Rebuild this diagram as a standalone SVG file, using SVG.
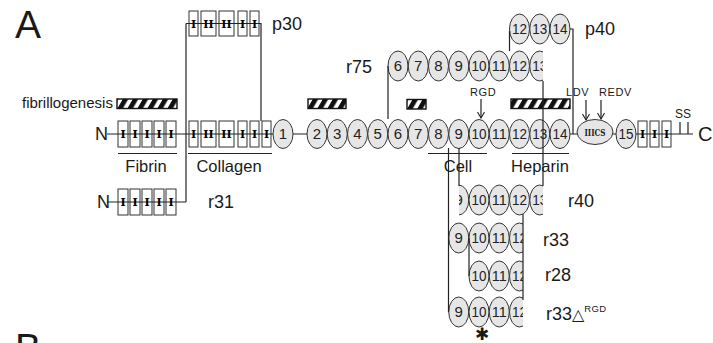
<svg xmlns="http://www.w3.org/2000/svg" width="713" height="343" viewBox="0 0 713 343">
<defs>
<style>
text{font-family:"Liberation Sans",Arial,sans-serif;fill:#1a1a1a}
.lbl{font-size:18px}
.dom{font-size:16.5px;text-anchor:middle}
.sm{font-size:11px;letter-spacing:0.6px}
.ov ellipse{fill:#e6e6e6;stroke:#333;stroke-width:1}
.ov text{font-size:15px;text-anchor:middle;fill:#222}
.bx rect{fill:#fff;stroke:#333;stroke-width:1}
.g{font-family:"DejaVu Serif",serif;font-weight:bold;font-size:11px;text-anchor:middle;fill:#000}
.ln{fill:none;stroke:#222;stroke-width:1.2}
.hat{fill:url(#hatch);stroke:#111;stroke-width:1.4}
</style>
<pattern id="hatch" patternUnits="userSpaceOnUse" width="10" height="10" patternTransform="skewX(-30)">
<rect width="10" height="10" fill="#fff"/>
<rect width="5.5" height="10" fill="#111"/>
</pattern>
<marker id="ah" markerWidth="8" markerHeight="8" refX="7" refY="4" orient="auto" markerUnits="userSpaceOnUse">
<path d="M1,0.5 L7,4 L1,7.5" fill="none" stroke="#222" stroke-width="1.1"/>
</marker>
<clipPath id="c75"><rect x="380" y="45" width="163" height="45"/></clipPath>
<clipPath id="c40"><rect x="459" y="180" width="84" height="40"/></clipPath>
<clipPath id="clow"><rect x="440" y="215" width="83" height="120"/></clipPath>
</defs>
<rect width="713" height="343" fill="#fff"/>

<g id="panel-letters">
<text x="15" y="38" font-size="39">A</text>
<text x="15" y="361" font-size="39">B</text>
</g>

<g id="hatched-bars">
<text x="22" y="108" font-size="15">fibrillogenesis</text>
<rect class="hat" x="117" y="99" width="60" height="9.5"/>
<rect class="hat" x="308" y="99" width="38" height="9.5"/>
<rect class="hat" x="407" y="99.5" width="19" height="9.5"/>
<rect class="hat" x="511" y="99" width="59" height="9.5"/>
</g>

<g id="chains">
<g class="bx">
<rect x="118" y="121" width="10" height="26"/><rect x="130" y="121" width="10" height="26"/><rect x="142" y="121" width="10" height="26"/><rect x="154" y="121" width="10" height="26"/><rect x="166" y="121" width="10" height="26"/>
<rect x="189" y="121" width="9" height="26"/><rect x="201" y="121" width="15" height="26"/><rect x="219" y="121" width="15" height="26"/><rect x="238" y="121" width="9" height="26"/><rect x="250" y="121" width="9" height="26"/><rect x="262" y="121" width="9" height="26"/>
<rect x="638" y="121" width="9" height="26"/><rect x="650" y="121" width="9" height="26"/><rect x="662" y="121" width="9" height="26"/>
<rect x="189" y="11" width="9" height="25"/><rect x="201" y="11" width="15" height="25"/><rect x="219" y="11" width="15" height="25"/><rect x="238" y="11" width="9" height="25"/><rect x="250" y="11" width="9" height="25"/>
<rect x="118" y="189" width="10" height="26"/><rect x="130" y="189" width="10" height="26"/><rect x="142" y="189" width="10" height="26"/><rect x="154" y="189" width="10" height="26"/><rect x="166" y="189" width="10" height="26"/>
</g>
<path class="ln" d="M107 134H693M107 202H186M186 23.5H261M680 122V134M688 122V134"/>
</g>

<g id="full-length" class="ov">
<ellipse cx="283" cy="134" rx="10" ry="14.5"/><text x="283" y="139.4">1</text>
<ellipse cx="317" cy="134" rx="10" ry="14.5"/><text x="317" y="139.4">2</text>
<ellipse cx="337.25" cy="134" rx="10" ry="14.5"/><text x="337.25" y="139.4">3</text>
<ellipse cx="357.5" cy="134" rx="10" ry="14.5"/><text x="357.5" y="139.4">4</text>
<ellipse cx="377.75" cy="134" rx="10" ry="14.5"/><text x="377.75" y="139.4">5</text>
<ellipse cx="398" cy="134" rx="10" ry="14.5"/><text x="398" y="139.4">6</text>
<ellipse cx="418.25" cy="134" rx="10" ry="14.5"/><text x="418.25" y="139.4">7</text>
<ellipse cx="438.5" cy="134" rx="10" ry="14.5"/><text x="438.5" y="139.4">8</text>
<ellipse cx="458.75" cy="134" rx="10" ry="14.5"/><text x="458.75" y="139.4">9</text>
<ellipse cx="479" cy="134" rx="10" ry="14.5"/><text x="479" y="139.4" textLength="15" lengthAdjust="spacingAndGlyphs">10</text>
<ellipse cx="499.25" cy="134" rx="10" ry="14.5"/><text x="499.25" y="139.4" textLength="15" lengthAdjust="spacingAndGlyphs">11</text>
<ellipse cx="519.5" cy="134" rx="10" ry="14.5"/><text x="519.5" y="139.4" textLength="15" lengthAdjust="spacingAndGlyphs">12</text>
<ellipse cx="539.75" cy="134" rx="10" ry="14.5"/><text x="539.75" y="139.4" textLength="15" lengthAdjust="spacingAndGlyphs">13</text>
<ellipse cx="560" cy="134" rx="10" ry="14.5"/><text x="560" y="139.4" textLength="15" lengthAdjust="spacingAndGlyphs">14</text>
<ellipse cx="595" cy="132" rx="18" ry="12.5"/><text class="g" x="595" y="135.5" style="font-size:9px" textLength="21" lengthAdjust="spacingAndGlyphs">IIICS</text>
<ellipse cx="626" cy="134" rx="10" ry="14.5"/><text x="626" y="139.4" textLength="15" lengthAdjust="spacingAndGlyphs">15</text>
</g>

<g id="module-glyphs">
<text class="g" x="123" y="138">I</text><text class="g" x="135" y="138">I</text><text class="g" x="147" y="138">I</text><text class="g" x="159" y="138">I</text><text class="g" x="171" y="138">I</text>
<text class="g" x="193.5" y="138">I</text><text class="g" x="208.5" y="138">II</text><text class="g" x="226.5" y="138">II</text><text class="g" x="242.5" y="138">I</text><text class="g" x="254.5" y="138">I</text><text class="g" x="266.5" y="138">I</text>
<text class="g" x="642.5" y="138">I</text><text class="g" x="654.5" y="138">I</text><text class="g" x="666.5" y="138">I</text>
<text class="g" x="193.5" y="27.5">I</text><text class="g" x="208.5" y="27.5">II</text><text class="g" x="226.5" y="27.5">II</text><text class="g" x="242.5" y="27.5">I</text><text class="g" x="254.5" y="27.5">I</text>
<text class="g" x="123" y="206">I</text><text class="g" x="135" y="206">I</text><text class="g" x="147" y="206">I</text><text class="g" x="159" y="206">I</text><text class="g" x="171" y="206">I</text>
</g>

<g id="p40" class="ov">
<ellipse cx="519.5" cy="29" rx="10" ry="15"/><text x="519.5" y="34.4" textLength="15" lengthAdjust="spacingAndGlyphs">12</text>
<ellipse cx="539.75" cy="29" rx="10" ry="15"/><text x="539.75" y="34.4" textLength="15" lengthAdjust="spacingAndGlyphs">13</text>
<ellipse cx="560" cy="29" rx="10" ry="15"/><text x="560" y="34.4" textLength="15" lengthAdjust="spacingAndGlyphs">14</text>
</g>

<g id="r75" class="ov" clip-path="url(#c75)">
<ellipse cx="398" cy="66" rx="10" ry="15"/><text x="398" y="71.4">6</text>
<ellipse cx="418.25" cy="66" rx="10" ry="15"/><text x="418.25" y="71.4">7</text>
<ellipse cx="438.5" cy="66" rx="10" ry="15"/><text x="438.5" y="71.4">8</text>
<ellipse cx="458.75" cy="66" rx="10" ry="15"/><text x="458.75" y="71.4">9</text>
<ellipse cx="479" cy="66" rx="10" ry="15"/><text x="479" y="71.4" textLength="15" lengthAdjust="spacingAndGlyphs">10</text>
<ellipse cx="499.25" cy="66" rx="10" ry="15"/><text x="499.25" y="71.4" textLength="15" lengthAdjust="spacingAndGlyphs">11</text>
<ellipse cx="519.5" cy="66" rx="10" ry="15"/><text x="519.5" y="71.4" textLength="15" lengthAdjust="spacingAndGlyphs">12</text>
<ellipse cx="539.75" cy="66" rx="10" ry="15"/><text x="539.75" y="71.4" textLength="15" lengthAdjust="spacingAndGlyphs">13</text>
</g>

<g id="r40" class="ov" clip-path="url(#c40)">
<ellipse cx="458.75" cy="200" rx="10" ry="15"/><text x="458.75" y="205.4">9</text>
<ellipse cx="479" cy="200" rx="10" ry="15"/><text x="479" y="205.4" textLength="15" lengthAdjust="spacingAndGlyphs">10</text>
<ellipse cx="499.25" cy="200" rx="10" ry="15"/><text x="499.25" y="205.4" textLength="15" lengthAdjust="spacingAndGlyphs">11</text>
<ellipse cx="519.5" cy="200" rx="10" ry="15"/><text x="519.5" y="205.4" textLength="15" lengthAdjust="spacingAndGlyphs">12</text>
<ellipse cx="539.75" cy="200" rx="10" ry="15"/><text x="539.75" y="205.4" textLength="15" lengthAdjust="spacingAndGlyphs">13</text>
</g>

<g id="r33" class="ov" clip-path="url(#clow)">
<ellipse cx="458.75" cy="238" rx="10" ry="15"/><text x="458.75" y="243.4">9</text>
<ellipse cx="479" cy="238" rx="10" ry="15"/><text x="479" y="243.4" textLength="15" lengthAdjust="spacingAndGlyphs">10</text>
<ellipse cx="499.25" cy="238" rx="10" ry="15"/><text x="499.25" y="243.4" textLength="15" lengthAdjust="spacingAndGlyphs">11</text>
<ellipse cx="519.5" cy="238" rx="10" ry="15"/><text x="519.5" y="243.4" textLength="15" lengthAdjust="spacingAndGlyphs">12</text>
</g>

<g id="r28" class="ov" clip-path="url(#clow)">
<ellipse cx="479" cy="276" rx="10" ry="15"/><text x="479" y="281.4" textLength="15" lengthAdjust="spacingAndGlyphs">10</text>
<ellipse cx="499.25" cy="276" rx="10" ry="15"/><text x="499.25" y="281.4" textLength="15" lengthAdjust="spacingAndGlyphs">11</text>
<ellipse cx="519.5" cy="276" rx="10" ry="15"/><text x="519.5" y="281.4" textLength="15" lengthAdjust="spacingAndGlyphs">12</text>
</g>

<g id="r33dRGD" class="ov" clip-path="url(#clow)">
<ellipse cx="458.75" cy="312" rx="10" ry="15"/><text x="458.75" y="317.4">9</text>
<ellipse cx="479" cy="312" rx="10" ry="15"/><text x="479" y="317.4" textLength="15" lengthAdjust="spacingAndGlyphs">10</text>
<ellipse cx="499.25" cy="312" rx="10" ry="15"/><text x="499.25" y="317.4" textLength="15" lengthAdjust="spacingAndGlyphs">11</text>
<ellipse cx="519.5" cy="312" rx="10" ry="15"/><text x="519.5" y="317.4" textLength="15" lengthAdjust="spacingAndGlyphs">12</text>
</g>

<g id="connectors" class="ln">
<path d="M186 23.5V202"/>
<path d="M258 23.5H261V121"/>
<path d="M388 66V119"/>
<path d="M509.5 31V51"/>
<path d="M570 29H573V134"/>
<path d="M543 81V186"/>
<path d="M448.5 148V312"/>
<path d="M459 148V186"/>
<path d="M469 238V276"/>
<path d="M523 214V300"/>
<path d="M481 99V118" marker-end="url(#ah)"/>
<path d="M586 100V120" marker-end="url(#ah)"/>
<path d="M601 100V119" marker-end="url(#ah)"/>
<path d="M118 153.5H177M188 153.5H272M428 153.5H487M512 153.5H569"/>
</g>

<g id="labels">
<text class="lbl" x="95" y="140">N</text>
<text class="lbl" x="97" y="208">N</text>
<text x="698" y="141" font-size="20">C</text>
<text x="675" y="117.5" font-size="12">SS</text>
<text class="sm" x="470" y="96">RGD</text>
<text class="sm" x="566" y="96">LDV</text>
<text class="sm" x="599" y="96">REDV</text>
<text class="dom" x="146" y="172">Fibrin</text>
<text class="dom" x="229" y="172">Collagen</text>
<text class="dom" x="458" y="172">Cell</text>
<text class="dom" x="540" y="172">Heparin</text>
<text class="lbl" x="272" y="30">p30</text>
<text class="lbl" x="346" y="73">r75</text>
<text class="lbl" x="585" y="35">p40</text>
<text class="lbl" x="208" y="208">r31</text>
<text class="lbl" x="568" y="207">r40</text>
<text class="lbl" x="543" y="246">r33</text>
<text class="lbl" x="545" y="281">r28</text>
<text class="lbl" x="546" y="320">r33<tspan font-family="DejaVu Sans" font-size="16">△</tspan><tspan font-size="9.5" dy="-8" letter-spacing="0.3">RGD</tspan></text>
<text x="482" y="340" font-family="DejaVu Sans" font-size="17" text-anchor="middle" fill="#000">✱</text>
</g>
</svg>
